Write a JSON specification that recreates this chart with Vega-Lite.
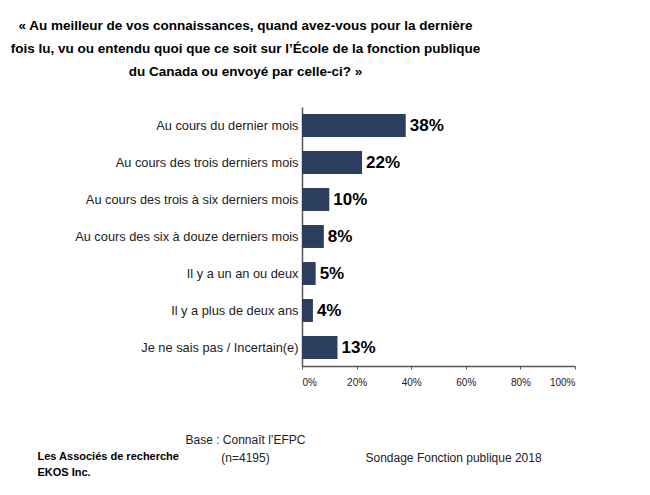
{
  "$schema": "https://vega.github.io/schema/vega-lite/v6.json",
  "width": 273,
  "height": 259,
  "autosize": "none",
  "padding": {"left": 302, "top": 107, "right": 75, "bottom": 129},
  "background": "white",
  "title": {
    "text": ["« Au meilleur de vos connaissances, quand avez-vous pour la dernière", "fois lu, vu ou entendu quoi que ce soit sur l’École de la fonction publique", "du Canada ou envoyé par celle-ci? »"],
    "font": "Liberation Sans",
    "fontSize": 13.5,
    "fontWeight": "bold",
    "color": "#000000",
    "lineHeight": 23,
    "anchor": "middle",
    "frame": "group",
    "dx": -193,
    "offset": 29
  },
  "data": {
    "values": [
      {"cat": "Au cours du dernier mois", "pct": 0.38, "lab": "38%"},
      {"cat": "Au cours des trois derniers mois", "pct": 0.22, "lab": "22%"},
      {"cat": "Au cours des trois à six derniers mois", "pct": 0.10, "lab": "10%"},
      {"cat": "Au cours des six à douze derniers mois", "pct": 0.08, "lab": "8%"},
      {"cat": "Il y a un an ou deux", "pct": 0.05, "lab": "5%"},
      {"cat": "Il y a plus de deux ans", "pct": 0.04, "lab": "4%"},
      {"cat": "Je ne sais pas / Incertain(e)", "pct": 0.13, "lab": "13%"}
    ]
  },
  "encoding": {
    "y": {
      "field": "cat",
      "type": "nominal",
      "sort": null,
      "scale": {"paddingInner": 0.38, "paddingOuter": 0.19},
      "axis": {
        "title": ["Les Associés de recherche", "EKOS Inc."],
        "titleFont": "Liberation Sans",
        "titleFontSize": 11,
        "titleFontWeight": "bold",
        "titleColor": "#000000",
        "titleAngle": 0,
        "titleAlign": "left",
        "titleBaseline": "top",
        "titleX": -265,
        "titleY": 343,
        "titleLineHeight": 16,
        "labelFont": "Liberation Sans",
        "labelFontSize": 12.8,
        "labelColor": "#222222",
        "labelPadding": 4,
        "ticks": false,
        "domainColor": "#555555",
        "domainWidth": 1.5,
        "labelLimit": 300
      }
    },
    "x": {
      "field": "pct",
      "type": "quantitative",
      "scale": {"domain": [0, 1], "nice": false},
      "axis": {
        "values": [0, 0.2, 0.4, 0.6, 0.8, 1],
        "format": ".0%",
        "grid": false,
        "labelFont": "Liberation Sans",
        "labelFontSize": 10,
        "labelColor": "#222222",
        "labelPadding": 8,
        "tickSize": 3,
        "tickColor": "#555555",
        "domainColor": "#555555",
        "domainWidth": 1.5,
        "title": ["Base : Connaît l’EFPC", "(n=4195)"],
        "titleFont": "Liberation Sans",
        "titleFontSize": 12,
        "titleFontWeight": "normal",
        "titleColor": "#222222",
        "titleX": -57,
        "titleY": 68,
        "titleBaseline": "top",
        "titleAlign": "center",
        "titleLineHeight": 18
      }
    }
  },
  "layer": [
    {
      "mark": {"type": "bar", "color": "#2C3E5E"}
    },
    {
      "mark": {"type": "text", "align": "left", "baseline": "middle", "dx": 4, "font": "Liberation Sans", "fontSize": 17, "fontWeight": "bold", "color": "#000000"},
      "encoding": {
        "text": {"field": "lab"},
        "x": {
          "field": "pct",
          "type": "quantitative",
          "axis": {
            "orient": "top",
            "labels": false,
            "ticks": false,
            "domain": false,
            "grid": false,
            "title": "Sondage Fonction publique 2018",
            "titleFont": "Liberation Sans",
            "titleFontSize": 12,
            "titleFontWeight": "normal",
            "titleColor": "#222222",
            "titleAlign": "left",
            "titleBaseline": "top",
            "titleX": 63,
            "titleY": 345
          }
        }
      }
    }
  ],
  "resolve": {"axis": {"x": "independent"}},
  "config": {"view": {"stroke": null}}
}
